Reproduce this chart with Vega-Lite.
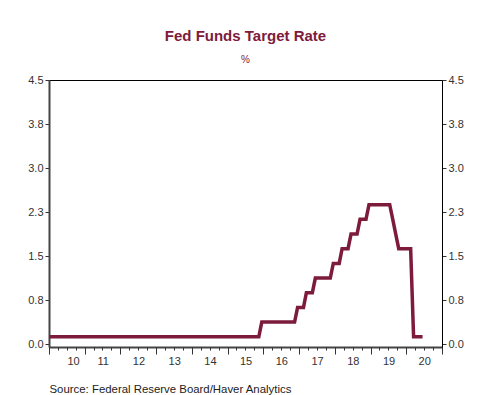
{
  "$schema": "https://vega.github.io/schema/vega-lite/v6.json",
  "autosize": "none",
  "width": 393,
  "height": 267,
  "padding": {"left": 49, "top": 80, "right": 45, "bottom": 48},
  "background": "white",
  "title": {
    "text": "Fed Funds Target Rate",
    "subtitle": "%",
    "anchor": "middle",
    "frame": "group",
    "font": "Liberation Sans",
    "fontSize": 15,
    "fontWeight": "bold",
    "color": "#7d1b3b",
    "subtitleFont": "Liberation Sans",
    "subtitleFontSize": 10,
    "subtitleColor": "#7d1b3b",
    "subtitlePadding": 11,
    "offset": 9
  },
  "config": {
    "view": {"stroke": "#000000", "strokeWidth": 1},
    "axis": {
      "grid": false,
      "labelFont": "Liberation Sans",
      "labelFontSize": 11,
      "labelColor": "#333333",
      "tickColor": "#333333",
      "domainColor": "#444444",
      "titleFont": "Liberation Sans"
    }
  },
  "data": {
    "values": [
      {"date": "2009-12", "rate": 0.125},
      {"date": "2010-01", "rate": 0.125}, {"date": "2010-02", "rate": 0.125}, {"date": "2010-03", "rate": 0.125},
      {"date": "2010-04", "rate": 0.125}, {"date": "2010-05", "rate": 0.125}, {"date": "2010-06", "rate": 0.125},
      {"date": "2010-07", "rate": 0.125}, {"date": "2010-08", "rate": 0.125}, {"date": "2010-09", "rate": 0.125},
      {"date": "2010-10", "rate": 0.125}, {"date": "2010-11", "rate": 0.125}, {"date": "2010-12", "rate": 0.125},
      {"date": "2011-01", "rate": 0.125}, {"date": "2011-02", "rate": 0.125}, {"date": "2011-03", "rate": 0.125},
      {"date": "2011-04", "rate": 0.125}, {"date": "2011-05", "rate": 0.125}, {"date": "2011-06", "rate": 0.125},
      {"date": "2011-07", "rate": 0.125}, {"date": "2011-08", "rate": 0.125}, {"date": "2011-09", "rate": 0.125},
      {"date": "2011-10", "rate": 0.125}, {"date": "2011-11", "rate": 0.125}, {"date": "2011-12", "rate": 0.125},
      {"date": "2012-01", "rate": 0.125}, {"date": "2012-02", "rate": 0.125}, {"date": "2012-03", "rate": 0.125},
      {"date": "2012-04", "rate": 0.125}, {"date": "2012-05", "rate": 0.125}, {"date": "2012-06", "rate": 0.125},
      {"date": "2012-07", "rate": 0.125}, {"date": "2012-08", "rate": 0.125}, {"date": "2012-09", "rate": 0.125},
      {"date": "2012-10", "rate": 0.125}, {"date": "2012-11", "rate": 0.125}, {"date": "2012-12", "rate": 0.125},
      {"date": "2013-01", "rate": 0.125}, {"date": "2013-02", "rate": 0.125}, {"date": "2013-03", "rate": 0.125},
      {"date": "2013-04", "rate": 0.125}, {"date": "2013-05", "rate": 0.125}, {"date": "2013-06", "rate": 0.125},
      {"date": "2013-07", "rate": 0.125}, {"date": "2013-08", "rate": 0.125}, {"date": "2013-09", "rate": 0.125},
      {"date": "2013-10", "rate": 0.125}, {"date": "2013-11", "rate": 0.125}, {"date": "2013-12", "rate": 0.125},
      {"date": "2014-01", "rate": 0.125}, {"date": "2014-02", "rate": 0.125}, {"date": "2014-03", "rate": 0.125},
      {"date": "2014-04", "rate": 0.125}, {"date": "2014-05", "rate": 0.125}, {"date": "2014-06", "rate": 0.125},
      {"date": "2014-07", "rate": 0.125}, {"date": "2014-08", "rate": 0.125}, {"date": "2014-09", "rate": 0.125},
      {"date": "2014-10", "rate": 0.125}, {"date": "2014-11", "rate": 0.125}, {"date": "2014-12", "rate": 0.125},
      {"date": "2015-01", "rate": 0.125}, {"date": "2015-02", "rate": 0.125}, {"date": "2015-03", "rate": 0.125},
      {"date": "2015-04", "rate": 0.125}, {"date": "2015-05", "rate": 0.125}, {"date": "2015-06", "rate": 0.125},
      {"date": "2015-07", "rate": 0.125}, {"date": "2015-08", "rate": 0.125}, {"date": "2015-09", "rate": 0.125},
      {"date": "2015-10", "rate": 0.125}, {"date": "2015-11", "rate": 0.125}, {"date": "2015-12", "rate": 0.375},
      {"date": "2016-01", "rate": 0.375}, {"date": "2016-02", "rate": 0.375}, {"date": "2016-03", "rate": 0.375},
      {"date": "2016-04", "rate": 0.375}, {"date": "2016-05", "rate": 0.375}, {"date": "2016-06", "rate": 0.375},
      {"date": "2016-07", "rate": 0.375}, {"date": "2016-08", "rate": 0.375}, {"date": "2016-09", "rate": 0.375},
      {"date": "2016-10", "rate": 0.375}, {"date": "2016-11", "rate": 0.375}, {"date": "2016-12", "rate": 0.625},
      {"date": "2017-01", "rate": 0.625}, {"date": "2017-02", "rate": 0.625}, {"date": "2017-03", "rate": 0.875},
      {"date": "2017-04", "rate": 0.875}, {"date": "2017-05", "rate": 0.875}, {"date": "2017-06", "rate": 1.125},
      {"date": "2017-07", "rate": 1.125}, {"date": "2017-08", "rate": 1.125}, {"date": "2017-09", "rate": 1.125},
      {"date": "2017-10", "rate": 1.125}, {"date": "2017-11", "rate": 1.125}, {"date": "2017-12", "rate": 1.375},
      {"date": "2018-01", "rate": 1.375}, {"date": "2018-02", "rate": 1.375}, {"date": "2018-03", "rate": 1.625},
      {"date": "2018-04", "rate": 1.625}, {"date": "2018-05", "rate": 1.625}, {"date": "2018-06", "rate": 1.875},
      {"date": "2018-07", "rate": 1.875}, {"date": "2018-08", "rate": 1.875}, {"date": "2018-09", "rate": 2.125},
      {"date": "2018-10", "rate": 2.125}, {"date": "2018-11", "rate": 2.125}, {"date": "2018-12", "rate": 2.375},
      {"date": "2019-01", "rate": 2.375}, {"date": "2019-02", "rate": 2.375}, {"date": "2019-03", "rate": 2.375},
      {"date": "2019-04", "rate": 2.375}, {"date": "2019-05", "rate": 2.375}, {"date": "2019-06", "rate": 2.375},
      {"date": "2019-07", "rate": 2.375}, {"date": "2019-08", "rate": 2.125}, {"date": "2019-09", "rate": 1.875},
      {"date": "2019-10", "rate": 1.625}, {"date": "2019-11", "rate": 1.625}, {"date": "2019-12", "rate": 1.625},
      {"date": "2020-01", "rate": 1.625}, {"date": "2020-02", "rate": 1.625}, {"date": "2020-03", "rate": 0.125},
      {"date": "2020-04", "rate": 0.125}, {"date": "2020-05", "rate": 0.125}, {"date": "2020-06", "rate": 0.125}
    ]
  },
  "layer": [
    {
      "mark": {"type": "line", "color": "#7d1b3b", "strokeWidth": 3.5, "clip": true, "strokeJoin": "miter"},
      "encoding": {
        "x": {
          "timeUnit": "utcyearmonth",
          "field": "date",
          "type": "temporal",
          "bandPosition": 0.5,
          "scale": {
            "type": "utc",
            "domain": [
              {"year": 2010, "month": 1, "date": 1, "utc": true},
              {"year": 2021, "month": 1, "date": 1, "utc": true}
            ]
          },
          "axis": {
            "orient": "bottom",
            "tickCount": {"interval": "year", "step": 1},
            "labelExpr": "utcyear(datum.value) > 2020 ? '' : utcFormat(datum.value, '%y')",
            "labelOffset": 18,
            "labelPadding": 1,
            "tickSize": 7,
            "tickWidth": 1,
            "domainWidth": 2,
            "title": "Source:  Federal Reserve Board/Haver Analytics",
            "titleAnchor": "start",
            "titleAlign": "left",
            "titleFontSize": 11.4,
            "titleFontWeight": "normal",
            "titleColor": "#222222",
            "titlePadding": 17
          }
        },
        "y": {
          "field": "rate",
          "type": "quantitative",
          "scale": {"domain": [-0.05, 4.5], "nice": false, "zero": false},
          "axis": {
            "orient": "left",
            "values": [0, 0.75, 1.5, 2.25, 3, 3.75, 4.5],
            "format": ".1f",
            "tickSize": 4,
            "labelPadding": 2,
            "domainWidth": 2,
            "title": null
          }
        }
      }
    },
    {
      "mark": {"type": "line", "opacity": 0, "clip": true},
      "encoding": {
        "x": {
          "timeUnit": "utcyearmonth",
          "field": "date",
          "type": "temporal",
          "bandPosition": 0.5,
          "axis": {
            "orient": "bottom",
            "tickCount": {"interval": "month", "step": 3},
            "labels": false,
            "domain": false,
            "tickSize": 3,
            "title": null
          }
        },
        "y": {
          "field": "rate",
          "type": "quantitative",
          "axis": {
            "orient": "right",
            "values": [0, 0.75, 1.5, 2.25, 3, 3.75, 4.5],
            "format": ".1f",
            "tickSize": 4,
            "labelPadding": 2,
            "domainColor": "#000000",
            "domainWidth": 1,
            "title": null
          }
        }
      }
    }
  ],
  "resolve": {"axis": {"x": "independent", "y": "independent"}}
}
